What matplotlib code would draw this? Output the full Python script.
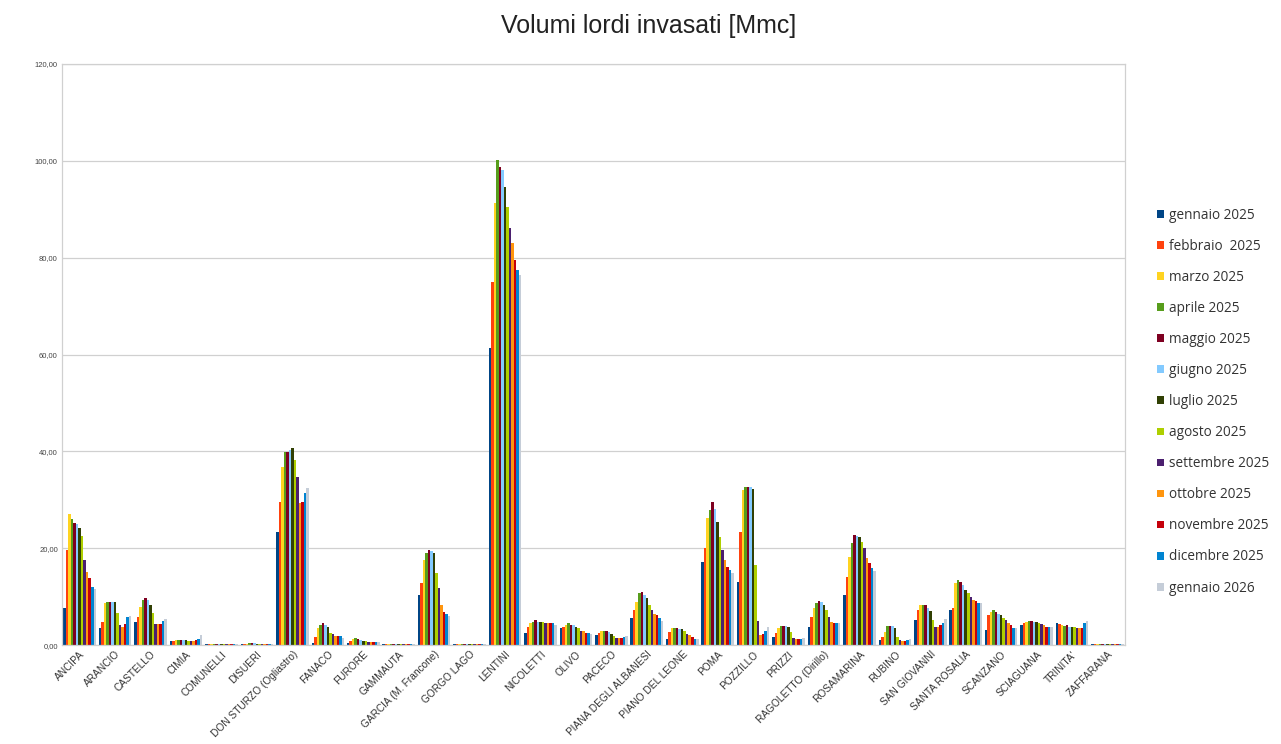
import matplotlib
matplotlib.use("Agg")
import matplotlib.pyplot as plt
import numpy as np
from matplotlib.patches import Patch

categories = ["ANCIPA", "ARANCIO", "CASTELLO", "CIMIA", "COMUNELLI", "DISUERI",
              "DON STURZO (Ogliastro)", "FANACO", "FURORE", "GAMMAUTA",
              "GARCIA (M. Francone)", "GORGO LAGO", "LENTINI", "NICOLETTI", "OLIVO",
              "PACECO", "PIANA DEGLI ALBANESI", "PIANO DEL LEONE", "POMA", "POZZILLO",
              "PRIZZI", "RAGOLETTO (Dirillo)", "ROSAMARINA", "RUBINO", "SAN GIOVANNI",
              "SANTA ROSALIA", "SCANZANO", "SCIAGUANA", "TRINITA'", "ZAFFARANA"]

series_labels = ["gennaio 2025", "febbraio  2025", "marzo 2025", "aprile 2025",
                 "maggio 2025", "giugno 2025", "luglio 2025", "agosto 2025",
                 "settembre 2025", "ottobre 2025", "novembre 2025", "dicembre 2025",
                 "gennaio 2026"]

series_colors = ["#004586", "#ff420e", "#ffd320", "#579d1c", "#7e0021", "#83caff",
                 "#314004", "#aecf00", "#4b1f6f", "#ff950e", "#c5000b", "#0084d1",
                 "#c5cdd8"]

# values per reservoir, 13 months each (gen 2025 ... gen 2026)
ANCIPA = [7.6, 19.6, 27.0, 26.0, 25.2, 25.0, 24.2, 22.5, 17.6, 15.0, 13.8, 12.0, 11.5]
ARANCIO = [3.5, 4.8, 8.7, 8.9, 8.9, 8.9, 8.9, 6.6, 4.1, 3.7, 4.4, 5.8, 6.0]
CASTELLO = [4.8, 5.8, 7.8, 9.3, 9.7, 9.3, 8.3, 6.6, 4.4, 4.4, 4.4, 5.0, 5.4]
CIMIA = [0.8, 0.9, 1.0, 1.1, 1.1, 1.0, 1.0, 0.9, 0.9, 0.8, 1.0, 1.3, 2.0]
COMUNELLI = [0.2, 0.2, 0.2, 0.2, 0.2, 0.2, 0.2, 0.2, 0.2, 0.2, 0.2, 0.2, 0.2]
DISUERI = [0.3, 0.3, 0.3, 0.4, 0.4, 0.4, 0.3, 0.3, 0.3, 0.3, 0.3, 0.3, 0.3]
DON_STURZO = [23.3, 29.5, 36.8, 39.9, 39.9, 40.2, 40.7, 38.2, 34.7, 29.3, 29.5, 31.4, 32.4]
FANACO = [0.5, 1.7, 3.5, 4.1, 4.6, 4.1, 3.8, 2.4, 2.3, 1.9, 1.8, 1.8, 1.5]
FURORE = [0.5, 0.8, 1.3, 1.4, 1.3, 1.1, 0.9, 0.8, 0.7, 0.6, 0.6, 0.7, 0.6]
GAMMAUTA = [0.2, 0.2, 0.2, 0.2, 0.2, 0.2, 0.2, 0.2, 0.2, 0.2, 0.2, 0.2, 0.2]
GARCIA = [10.3, 12.8, 17.6, 19.0, 19.6, 19.4, 19.0, 14.9, 11.8, 8.3, 6.8, 6.4, 6.0]
GORGO_LAGO = [0.3, 0.3, 0.3, 0.3, 0.3, 0.3, 0.3, 0.3, 0.3, 0.3, 0.3, 0.3, 0.3]
LENTINI = [61.4, 75.0, 91.3, 100.2, 98.8, 98.1, 94.6, 90.5, 86.2, 83.0, 79.5, 77.5, 76.4]
NICOLETTI = [2.5, 3.8, 4.5, 4.8, 5.1, 4.8, 4.8, 4.8, 4.5, 4.5, 4.5, 4.5, 4.2]
OLIVO = [3.5, 3.8, 4.2, 4.5, 4.2, 4.2, 3.8, 3.5, 2.9, 2.9, 2.5, 2.5, 2.3]
PACECO = [2.1, 2.4, 2.8, 3.0, 2.9, 2.6, 2.3, 1.9, 1.5, 1.4, 1.5, 1.6, 1.9]
PIANA_ALBANESI = [5.5, 7.2, 8.9, 10.7, 11.0, 10.4, 9.7, 8.3, 7.2, 6.5, 6.2, 5.5, 5.0]
PIANO_LEONE = [1.2, 2.7, 3.5, 3.5, 3.5, 3.4, 3.3, 3.0, 2.3, 2.1, 1.7, 1.3, 1.2]
POMA = [17.1, 20.0, 26.2, 27.9, 29.5, 28.0, 25.4, 22.3, 19.6, 17.6, 16.1, 15.5, 14.9]
POZZILLO = [13.0, 23.3, 32.0, 32.6, 32.6, 32.6, 32.3, 16.5, 5.0, 2.1, 2.3, 3.0, 3.7]
PRIZZI = [1.7, 2.5, 3.5, 4.0, 4.0, 4.0, 3.7, 2.7, 1.4, 1.2, 1.2, 1.2, 1.4]
RAGOLETTO = [3.7, 5.8, 7.6, 8.7, 9.1, 8.8, 8.3, 7.2, 5.8, 4.8, 4.6, 4.6, 4.6]
ROSAMARINA = [10.3, 14.0, 18.2, 21.0, 22.7, 22.5, 22.3, 21.3, 20.0, 18.0, 17.0, 16.0, 15.2]
RUBINO = [1.0, 1.7, 2.7, 4.0, 4.0, 3.9, 3.5, 1.7, 1.0, 0.9, 0.9, 1.0, 1.2]
SAN_GIOVANNI = [5.2, 7.2, 8.3, 8.3, 8.3, 7.6, 7.0, 5.2, 3.7, 3.7, 4.1, 4.6, 5.3]
SANTA_ROSALIA = [7.2, 7.6, 12.8, 13.4, 13.0, 12.4, 11.4, 10.7, 10.0, 9.3, 9.0, 8.7, 8.7]
SCANZANO = [3.1, 6.2, 6.9, 7.2, 6.9, 6.5, 6.2, 5.5, 5.2, 4.6, 4.1, 3.5, 3.5]
SCIAGUANA = [4.1, 4.6, 4.8, 5.0, 5.0, 4.8, 4.7, 4.5, 4.4, 4.1, 3.8, 3.7, 3.8]
TRINITA = [4.5, 4.4, 4.2, 4.0, 4.1, 3.8, 3.8, 3.8, 3.6, 3.5, 3.6, 4.5, 5.0]
ZAFFARANA = [0.15, 0.15, 0.15, 0.15, 0.15, 0.15, 0.15, 0.15, 0.15, 0.15, 0.15, 0.15, 0.15]

rows = [ANCIPA, ARANCIO, CASTELLO, CIMIA, COMUNELLI, DISUERI, DON_STURZO, FANACO,
        FURORE, GAMMAUTA, GARCIA, GORGO_LAGO, LENTINI, NICOLETTI, OLIVO, PACECO,
        PIANA_ALBANESI, PIANO_LEONE, POMA, POZZILLO, PRIZZI, RAGOLETTO, ROSAMARINA,
        RUBINO, SAN_GIOVANNI, SANTA_ROSALIA, SCANZANO, SCIAGUANA, TRINITA, ZAFFARANA]
data = np.array(rows)  # shape (n_categories, n_series)

y_ticks = [0, 20, 40, 60, 80, 100, 120]

fig = plt.figure(figsize=(12.81, 7.44), dpi=100)
ax = fig.add_axes([0.0484, 0.133, 0.830, 0.781])

n_cat = len(categories)
n_ser = len(series_labels)
group_w = 0.92
bw = group_w / n_ser
x = np.arange(n_cat)
for j in range(n_ser):
    offs = -group_w / 2 + bw * (j + 0.5)
    ax.bar(x + offs, data[:, j], width=bw, color=series_colors[j], linewidth=0)

ax.set_xlim(-0.5, n_cat - 0.5)
ax.set_ylim(0, 120)
ax.set_yticks(y_ticks)
ax.set_yticklabels([f"{v:.2f}".replace(".", ",") for v in y_ticks],
                   fontsize=5.5, color="#444444", family="Liberation Sans")
ax.set_xticks(x)
ax.set_xticklabels(categories, rotation=45, ha="right", rotation_mode="anchor",
                   fontsize=7.3, color="#333333", family="Liberation Sans")
ax.tick_params(axis="both", length=0, pad=3)
ax.grid(axis="y", color="#d0d0d0", linewidth=0.9)
ax.set_axisbelow(True)
for side in ["left", "right", "top", "bottom"]:
    ax.spines[side].set_color("#d0d0d0")
    ax.spines[side].set_linewidth(0.9)

fig.text(0.506, 0.965, "Volumi lordi invasati [Mmc]", ha="center", va="center",
         fontsize=18, family="Liberation Sans", color="#222222")

handles = [Patch(facecolor=c, edgecolor="none") for c in series_colors]
leg = fig.legend(handles, series_labels, loc="upper left",
                 bbox_to_anchor=(0.899, 0.728), frameon=False,
                 prop={"family": "Open Sans", "size": 9.8},
                 handlelength=0.5, handleheight=0.5, handletextpad=0.35,
                 labelspacing=1.18, borderaxespad=0)
for t in leg.get_texts():
    t.set_color("#333333")

fig.savefig("out.png", dpi=100)
